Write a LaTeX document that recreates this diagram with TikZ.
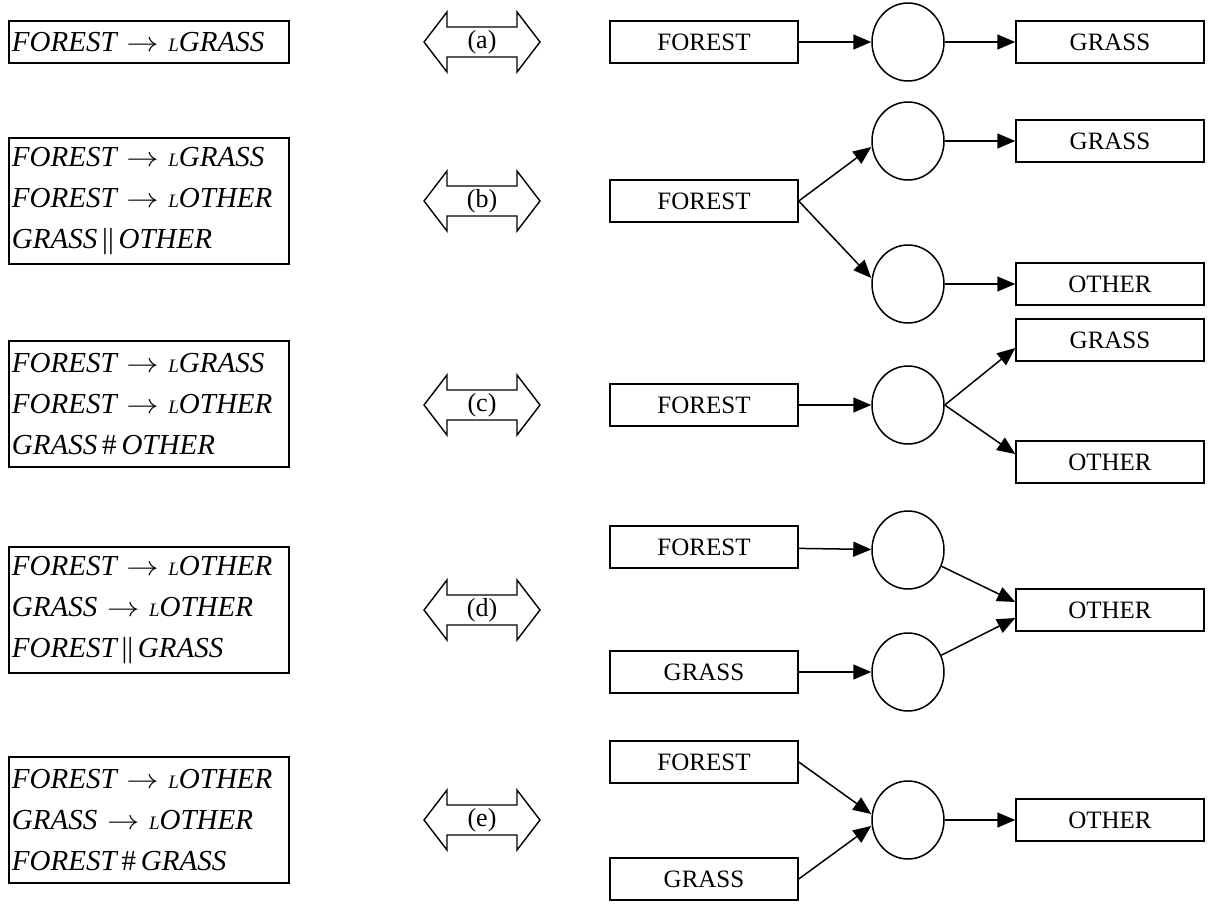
\documentclass[tikz,border=0pt]{standalone}
\usepackage{graphicx}
\usepackage{fontspec}
\setmainfont{Liberation Serif}
\usetikzlibrary{arrows.meta,calc,shapes.geometric}
\newcommand\Lsm{{\fontsize{19}{19}\selectfont L}}
\newcommand\rarr{{\upshape\ \scalebox{1.3}[1.1]{$\rightarrow$}\ }}
\begin{document}
\begin{tikzpicture}[x=1pt,y=-1pt,
 lbox/.style={draw, line width=1.5pt, minimum width=280pt, text width=274pt, align=left, inner sep=3pt, font=\fontsize{29}{41}\selectfont\itshape},
 rbox/.style={draw, line width=1.5pt, minimum width=188pt, minimum height=42pt, inner sep=0pt, font=\fontsize{25}{28}\selectfont},
 proc/.style={draw, ellipse, line width=1.5pt, minimum width=72pt, minimum height=78pt, inner sep=0pt},
 arr/.style={line width=1.5pt, -{Triangle[length=18pt,width=15pt]}},
 darr/.style={draw, line width=1.4pt},
 dlab/.style={font=\fontsize{26}{28}\selectfont}]
\useasboundingbox (0,0) rectangle (1211,903);

% left boxes
\node[lbox, minimum height=42pt] (La) at (149,42) {FOREST\rarr\Lsm GRASS};
\node[lbox, minimum height=126pt] (Lb) at (149,201) {FOREST\rarr\Lsm GRASS\\FOREST\rarr\Lsm OTHER\\GRASS\,{\upshape||}\,OTHER};
\node[lbox, minimum height=126pt] (Lc) at (149,404) {FOREST\rarr\Lsm GRASS\\FOREST\rarr\Lsm OTHER\\GRASS\,{\upshape\#}\,OTHER};
\node[lbox, minimum height=126pt] (Ld) at (149,610) {FOREST\rarr\Lsm OTHER\\GRASS\rarr\Lsm OTHER\\FOREST\,{\upshape||}\,GRASS};
\node[lbox, minimum height=126pt] (Le) at (149,820) {FOREST\rarr\Lsm OTHER\\GRASS\rarr\Lsm OTHER\\FOREST\,{\upshape\#}\,GRASS};

% double arrows
\foreach \lab/\yy in {a/42,b/201,c/405,d/610,e/820}{
  \node[dlab] (D\lab) at (482,\yy) {(\lab)};
  \draw[darr] ($(D\lab)+(-58,0)$) -- ++(23,-30) -- ++(0,15) -- ++(70,0) -- ++(0,-15)
     -- ++(23,30) -- ++(-23,30) -- ++(0,-15) -- ++(-70,0) -- ++(0,15) -- cycle;
}

% (a)
\node[rbox] (Fa) at (704,42) {FOREST};
\node[proc] (Pa) at (908,42) {};
\node[rbox] (Ga) at (1110,42) {GRASS};
\draw[arr] (Fa) -- (Pa);
\draw[arr] (Pa) -- (Ga);

% (b)
\node[rbox] (Fb) at (704,201) {FOREST};
\node[proc] (Pb1) at (908,141) {};
\node[proc] (Pb2) at (908,284) {};
\node[rbox] (Gb) at (1110,141) {GRASS};
\node[rbox] (Ob) at (1110,284) {OTHER};
\draw[arr] (Fb.east) -- ($(Pb1.west)+(0,6)$);
\draw[arr] (Fb.east) -- ($(Pb2.west)+(0,-6)$);
\draw[arr] (Pb1) -- (Gb);
\draw[arr] (Pb2) -- (Ob);

% (c)
\node[rbox] (Fc) at (704,405) {FOREST};
\node[proc] (Pc) at (908,405) {};
\node[rbox] (Gc) at (1110,340) {GRASS};
\node[rbox] (Oc) at (1110,462) {OTHER};
\draw[arr] (Fc) -- (Pc);
\draw[arr] (Pc.east) -- ($(Gc.west)+(0,8)$);
\draw[arr] (Pc.east) -- ($(Oc.west)+(0,-8)$);

% (d)
\node[rbox] (Fd) at (704,547) {FOREST};
\node[rbox] (Gd) at (704,672) {GRASS};
\node[proc] (Pd1) at (908,550) {};
\node[proc] (Pd2) at (908,672) {};
\node[rbox] (Od) at (1110,610) {OTHER};
\draw[arr] (Fd) -- (Pd1);
\draw[arr] (Gd) -- (Pd2);
\draw[arr] (Pd1) -- ($(Od.west)+(0,-8)$);
\draw[arr] (Pd2) -- ($(Od.west)+(0,8)$);

% (e)
\node[rbox] (Fe) at (704,762) {FOREST};
\node[rbox] (Ge) at (704,879) {GRASS};
\node[proc] (Pe) at (908,820) {};
\node[rbox] (Oe) at (1110,820) {OTHER};
\draw[arr] (Fe.east) -- ($(Pe.west)+(0,-6)$);
\draw[arr] (Ge.east) -- ($(Pe.west)+(0,6)$);
\draw[arr] (Pe) -- (Oe);
\end{tikzpicture}
\end{document}
